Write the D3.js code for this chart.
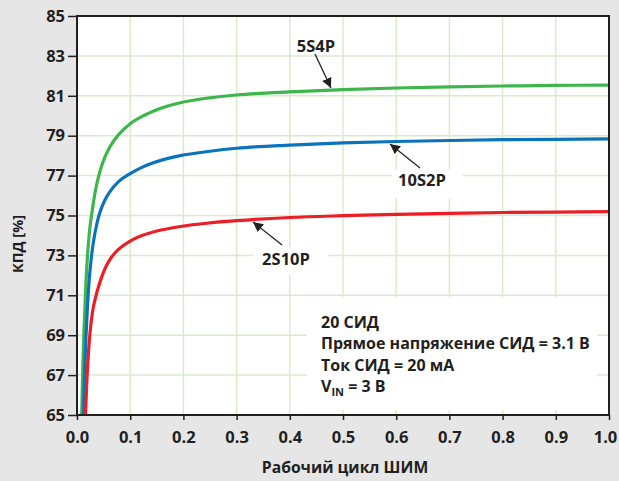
<!DOCTYPE html>
<html><head><meta charset="utf-8">
<script src="https://cdn.jsdelivr.net/npm/d3@7"></script>
<style>
html,body{margin:0;padding:0;background:#e6e6e6;}
svg{display:block;}
text{font-family:"Open Sans",sans-serif;font-weight:700;fill:#231f20;}
</style></head>
<body>
<svg id="chart" width="619" height="481"></svg>
<script>
// Data
const xTicks = [0.0,0.1,0.2,0.3,0.4,0.5,0.6,0.7,0.8,0.9,1.0];
const yTicks = [65,67,69,71,73,75,77,79,81,83,85];
const seriesNames = ["5S4P","10S2P","2S10P"];
const dutyGreen = [0.0088,0.011,0.0132,0.0155,0.0175,0.02,0.0235,0.0295,0.035,0.043,0.052,0.062,0.078,0.1,0.125,0.15,0.194,0.25,0.3,0.4,0.5,0.6,0.7,0.8,0.9,1.0];
const effGreen  = [65.0,67.5,69.3,70.8,72.0,73.1,74.2,75.4,76.3,77.2,77.9,78.45,79.05,79.6,80.0,80.3,80.65,80.9,81.04,81.2,81.31,81.39,81.45,81.49,81.52,81.54];
const dutyBlue  = [0.012,0.0145,0.017,0.02,0.023,0.027,0.031,0.037,0.043,0.052,0.062,0.078,0.1,0.125,0.15,0.194,0.25,0.3,0.4,0.5,0.6,0.7,0.8,0.9,1.0];
const effBlue   = [65.0,67.3,69.0,70.6,71.8,72.9,73.7,74.55,75.15,75.75,76.2,76.7,77.1,77.45,77.7,78.0,78.22,78.37,78.53,78.64,78.71,78.76,78.8,78.82,78.84];
const dutyRed   = [0.016,0.018,0.0205,0.0244,0.029,0.035,0.043,0.052,0.062,0.078,0.1,0.125,0.15,0.194,0.25,0.3,0.4,0.5,0.6,0.7,0.8,0.9,1.0];
const effRed    = [65.0,66.4,67.7,69.1,70.15,70.9,71.65,72.3,72.8,73.3,73.72,74.02,74.22,74.45,74.63,74.74,74.9,74.99,75.06,75.11,75.15,75.17,75.19];
const notes = ["20 СИД","Прямое напряжение СИД = 3.1 В","Ток СИД = 20 мА"];

const svg = d3.select("#chart");
const L=77, R=609, T=16, B=415;
const x = d3.scaleLinear().domain([0,1]).range([L,R]);
const y = d3.scaleLinear().domain([65,85]).range([B,T]);
const FONT = '"Open Sans",sans-serif';

svg.append("rect").attr("x",L).attr("y",T).attr("width",R-L).attr("height",B-T).attr("fill","#fff");

// grid
const grid = svg.append("g").attr("stroke","#d9ecca").attr("stroke-width",1.5);
grid.selectAll(".gx").data(xTicks.slice(1,-1)).join("line")
  .attr("x1",d=>x(d)).attr("x2",d=>x(d)).attr("y1",T).attr("y2",B);
grid.selectAll(".gy").data(yTicks.slice(1,-1)).join("line")
  .attr("x1",L).attr("x2",R).attr("y1",d=>y(d)).attr("y2",d=>y(d));

// white boxes behind labels
const wb = svg.append("g").attr("fill","#fff");
wb.append("rect").attr("x",307).attr("y",297).attr("width",290).attr("height",113);
wb.append("rect").attr("x",392).attr("y",170).attr("width",71).attr("height",28);
wb.append("rect").attr("x",253).attr("y",247).attr("width",75).attr("height",28);
wb.append("rect").attr("x",294).attr("y",33).attr("width",44).attr("height",22);

// curves
svg.append("clipPath").attr("id","clip").append("rect").attr("x",L).attr("y",T).attr("width",R-L).attr("height",B-T);
const line = d3.line().x(d=>x(d[0])).y(d=>y(d[1])).curve(d3.curveMonotoneX);
const series = [
  {d:d3.zip(dutyGreen,effGreen), c:"#3db64b"},
  {d:d3.zip(dutyBlue,effBlue), c:"#0b73bb"},
  {d:d3.zip(dutyRed,effRed), c:"#ec1d25"}
];
svg.append("g").attr("clip-path","url(#clip)").selectAll("path").data(series).join("path")
  .attr("d",s=>line(s.d)).attr("fill","none").attr("stroke",s=>s.c).attr("stroke-width",3.2);

// frame
svg.append("rect").attr("x",L).attr("y",T).attr("width",R-L).attr("height",B-T)
  .attr("fill","none").attr("stroke","#231f20").attr("stroke-width",2);

// axes
const ya = svg.append("g").attr("transform",`translate(${L},0)`)
  .call(d3.axisLeft(y).tickValues(yTicks).tickFormat(d3.format("d")).tickSize(9).tickPadding(3));
ya.select(".domain").remove();
ya.selectAll("line").attr("stroke","#231f20").attr("stroke-width",1.5);
ya.selectAll("text").attr("font-size",16.5).attr("fill","#231f20").style("font-family",FONT).style("font-weight",700);

const xa = svg.append("g").attr("transform",`translate(0,${B})`)
  .call(d3.axisBottom(x).tickValues(xTicks).tickFormat(d3.format(".1f")).tickSize(5).tickPadding(11));
xa.select(".domain").remove();
xa.selectAll("line").attr("stroke","#231f20").attr("stroke-width",1.5);
xa.selectAll("text").attr("font-size",16.5).attr("fill","#231f20").style("font-family",FONT).style("font-weight",700)
  .attr("dx",d=>d===1 ? -4 : 0);

// axis titles
svg.append("text").attr("x",345).attr("y",473).attr("text-anchor","middle").attr("font-size",15.7).text("Рабочий цикл ШИМ");
svg.append("text").attr("transform","translate(23,244) rotate(-90)").attr("text-anchor","middle").attr("font-size",14.5).text("КПД [%]");

// arrows
const defs = svg.append("defs");
defs.append("marker").attr("id","ah").attr("viewBox","0 0 10 10").attr("refX",10).attr("refY",5)
  .attr("markerWidth",10).attr("markerHeight",10).attr("markerUnits","userSpaceOnUse").attr("orient","auto")
  .append("path").attr("d","M0,0 L10,5 L0,10 Z").attr("fill","#231f20");
const arrows = [
  {x1:315,y1:54,x2:331,y2:88},
  {x1:420,y1:168,x2:390,y2:144},
  {x1:282,y1:245,x2:253,y2:222}
];
svg.selectAll(".arr").data(arrows).join("line")
  .attr("x1",d=>d.x1).attr("y1",d=>d.y1).attr("x2",d=>d.x2).attr("y2",d=>d.y2)
  .attr("stroke","#231f20").attr("stroke-width",1.3).attr("marker-end","url(#ah)");

const labelPos = [[316,52],[422,186],[286,265]];
svg.selectAll(".lab").data(seriesNames).join("text")
  .attr("x",(d,i)=>labelPos[i][0]).attr("y",(d,i)=>labelPos[i][1])
  .attr("text-anchor","middle").attr("font-size",16.5).text(d=>d);

// notes
svg.selectAll(".note").data(notes).join("text")
  .attr("x",321).attr("y",(d,i)=>328+i*21.3).attr("font-size",16).text(d=>d);
const v = svg.append("text").attr("x",321).attr("y",328+3*21.3).attr("font-size",16);
v.append("tspan").text("V");
v.append("tspan").attr("font-size",11).attr("dy",4).text("IN");
v.append("tspan").attr("dy",-4).text(" = 3 В");
</script>
</body></html>
